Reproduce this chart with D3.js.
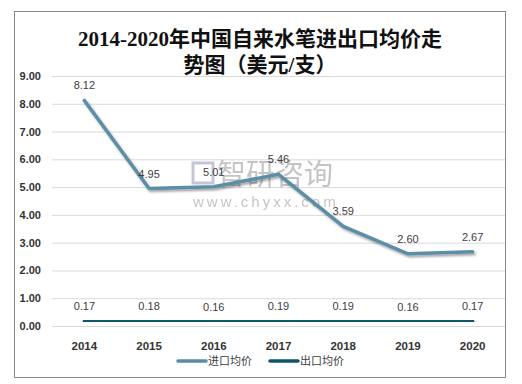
<!DOCTYPE html>
<html>
<head>
<meta charset="utf-8">
<script src="https://cdn.jsdelivr.net/npm/d3@7"></script>
<style>
  body { margin: 0; background: #fff; }
  text { font-family: "Liberation Sans", "Noto Sans CJK SC", sans-serif; }
</style>
</head>
<body>
<div id="chart"></div>
<script>
// values
let years = ["2014", "2015", "2016", "2017", "2018", "2019", "2020"];
let importPrice = [8.12, 4.95, 5.01, 5.46, 3.59, 2.60, 2.67];
let exportPrice = [0.17, 0.18, 0.16, 0.19, 0.19, 0.16, 0.17];
let yTicks = [0, 1, 2, 3, 4, 5, 6, 7, 8, 9];
let seriesNames = ["进口均价", "出口均价"];
let colors = ["#5b8ea6", "#0e566e"];

let width = 522, height = 384;
let svg = d3.select("#chart").append("svg")
  .attr("width", width)
  .attr("height", height);

let defs = svg.append("defs");
let flt = defs.append("filter").attr("id", "shadow")
  .attr("x", "-10%").attr("y", "-10%").attr("width", "120%").attr("height", "130%");
flt.append("feDropShadow")
  .attr("dx", 1.5).attr("dy", 2).attr("stdDeviation", 1.2)
  .attr("flood-color", "#000").attr("flood-opacity", 0.35);

// outer frame
svg.append("rect")
  .attr("x", 14.5).attr("y", 11.5)
  .attr("width", 491).attr("height", 366)
  .attr("fill", "#fff")
  .attr("stroke", "#888").attr("stroke-width", 1);

// title
let title = svg.append("text")
  .attr("text-anchor", "middle")
  .style("font-family", "'Liberation Serif', 'Noto Sans CJK SC', serif")
  .style("font-size", "21px")
  .style("font-weight", "bold")
  .attr("fill", "#111");
title.append("tspan").attr("x", 260).attr("y", 46).text("2014-2020年中国自来水笔进出口均价走");
title.append("tspan").attr("x", 260).attr("y", 72).text("势图（美元/支）");

let x = d3.scaleBand().domain(years).range([52, 505]);
let y = d3.scaleLinear().domain([0, 9]).range([326, 76]);

// grid
svg.append("g").selectAll("line")
  .data(yTicks).join("line")
  .attr("x1", 52).attr("x2", 505)
  .attr("y1", d => y(d) + 0.5).attr("y2", d => y(d) + 0.5)
  .attr("stroke", "#d9d9d9").attr("stroke-width", 1);

// y axis labels
svg.append("g").selectAll("text")
  .data(yTicks).join("text")
  .attr("x", 41).attr("y", d => y(d) + 4)
  .attr("text-anchor", "end")
  .style("font-size", "11px").style("font-weight", "bold")
  .attr("fill", "#333")
  .text(d => d.toFixed(2));

// x axis labels
svg.append("g").selectAll("text")
  .data(years).join("text")
  .attr("x", d => x(d) + x.bandwidth() / 2).attr("y", 350)
  .attr("text-anchor", "middle")
  .style("font-size", "11.5px").style("font-weight", "bold")
  .attr("fill", "#333")
  .text(d => d);

// watermark
let wm = svg.append("g").attr("opacity", 0.5);
wm.append("text").attr("x", 217).attr("y", 185)
  .style("font-family", "'Noto Sans CJK SC'").style("font-size", "29px")
  .attr("fill", "#8a8a8a").text("智研咨询");
wm.append("rect").attr("x", 193).attr("y", 163).attr("width", 20).attr("height", 20)
  .attr("fill", "none").attr("stroke", "#8a8fb0").attr("stroke-width", 3);
wm.append("text").attr("x", 193).attr("y", 207)
  .style("font-size", "15px").style("letter-spacing", "3px")
  .attr("fill", "#8a8a8a").text("www.chyxx.com");

let line = d3.line()
  .x((d, i) => x(years[i]) + x.bandwidth() / 2)
  .y(d => y(d));

[importPrice, exportPrice].forEach(function (vals, k) {
  svg.append("path")
    .datum(vals)
    .attr("d", line)
    .attr("fill", "none")
    .attr("stroke", colors[k])
    .attr("stroke-width", 3.5)
    .attr("stroke-linecap", "round")
    .attr("stroke-linejoin", "round")
    .attr("filter", "url(#shadow)");

  svg.append("g").selectAll("text")
    .data(vals).join("text")
    .attr("x", (d, i) => x(years[i]) + x.bandwidth() / 2)
    .attr("y", d => y(d) - 11)
    .attr("text-anchor", "middle")
    .style("font-size", "11px")
    .attr("fill", "#404040")
    .text(d => d.toFixed(2));
});

// legend
let legend = svg.append("g");
let legX = [178, 270];
seriesNames.forEach(function (name, k) {
  legend.append("line")
    .attr("x1", legX[k]).attr("x2", legX[k] + 28)
    .attr("y1", 361).attr("y2", 361)
    .attr("stroke", colors[k]).attr("stroke-width", 3.5)
    .attr("stroke-linecap", "round");
  legend.append("text")
    .attr("x", legX[k] + 30).attr("y", 365)
    .style("font-family", "'Noto Sans CJK SC'")
    .style("font-size", "11px")
    .attr("fill", "#404040")
    .text(name);
});
</script>
</body>
</html>
